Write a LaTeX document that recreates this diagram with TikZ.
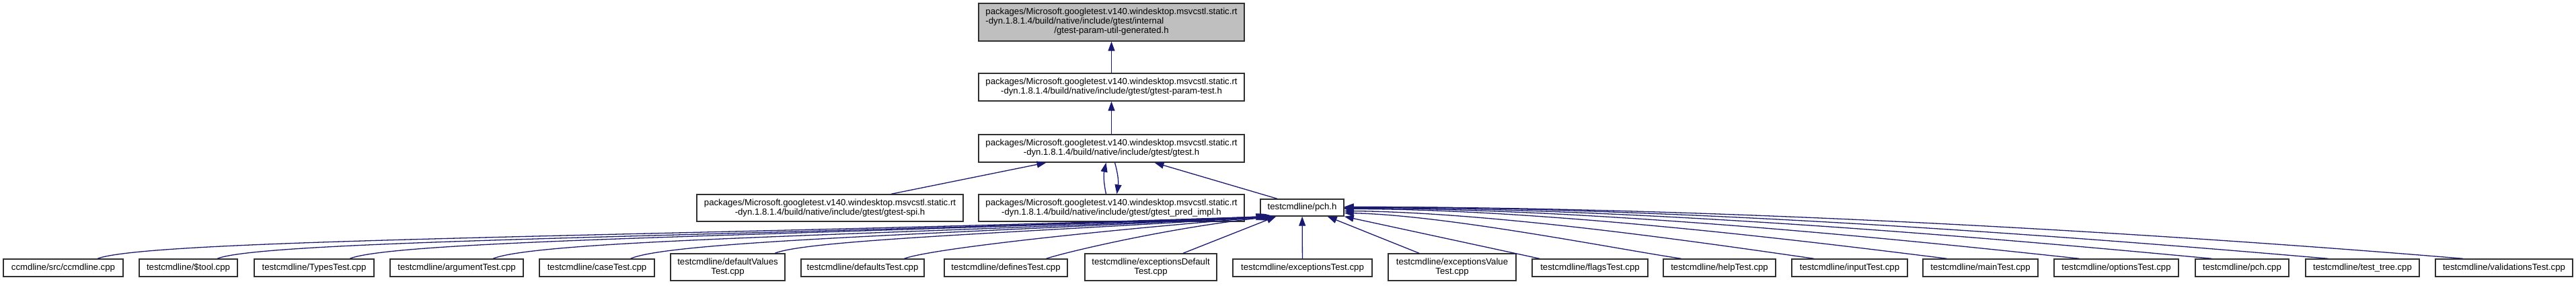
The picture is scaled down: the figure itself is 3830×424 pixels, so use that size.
\documentclass[tikz,border=0pt]{standalone}
\usepackage{fontspec}
\setmainfont{Liberation Sans}
\usepackage{xcolor}
\definecolor{edgeblue}{RGB}{25, 25, 112}
\definecolor{rootgray}{RGB}{191, 191, 191}
\definecolor{boxline}{RGB}{48, 48, 48}
\usepackage{tikz}
\usetikzlibrary{arrows.meta, calc}

\tikzset{
    filebox/.style={draw=boxline, line width=1.4pt, fill=white, inner sep=0pt, align=center,
        font=\fontsize{13.2}{14}\selectfont, minimum height=26pt},
    twoline/.style={filebox, minimum height=40pt},
    edge/.style={edgeblue, line width=1.3pt, -{Triangle[length=14pt, width=10pt]}},
}

\begin{document}
\begin{tikzpicture}[x=1pt, y=-1pt]
    \useasboundingbox (0,0) rectangle (3830,424);
    % header chain
    \node[filebox, fill=rootgray, minimum width=395pt, minimum height=56pt] (utilgen) at (1652.5,33)
        {\begin{tabular}{@{}l@{}}packages/Microsoft.googletest.v140.windesktop.msvcstl.static.rt\\
        -dyn.1.8.1.4/build/native/include/gtest/internal\\
        \multicolumn{1}{@{}c@{}}{/gtest-param-util-generated.h}\end{tabular}};
    \node[twoline, minimum width=395pt, minimum height=41pt] (paramtest) at (1652.5,129.5)
        {packages/Microsoft.googletest.v140.windesktop.msvcstl.static.rt\\-dyn.1.8.1.4/build/native/include/gtest/gtest-param-test.h};
    \node[twoline, minimum width=395pt, minimum height=41pt] (gtest) at (1652.5,220.5)
        {packages/Microsoft.googletest.v140.windesktop.msvcstl.static.rt\\-dyn.1.8.1.4/build/native/include/gtest/gtest.h};
    \node[twoline, minimum width=396pt] (spi) at (1234,309)
        {packages/Microsoft.googletest.v140.windesktop.msvcstl.static.rt\\-dyn.1.8.1.4/build/native/include/gtest/gtest-spi.h};
    \node[twoline, minimum width=395pt] (predimpl) at (1652.5,309)
        {packages/Microsoft.googletest.v140.windesktop.msvcstl.static.rt\\-dyn.1.8.1.4/build/native/include/gtest/gtest\_pred\_impl.h};
    \node[filebox, minimum width=124pt, minimum height=25pt] (pchh) at (1936,308.5) {testcmdline/pch.h};

    % sources including pch.h
    \node[filebox, minimum width=178pt] (ccmdline) at (94,398) {ccmdline/src/ccmdline.cpp};
    \node[filebox, minimum width=146pt] (tool) at (280,398) {testcmdline/\$tool.cpp};
    \node[filebox, minimum width=178pt] (types) at (467,398) {testcmdline/TypesTest.cpp};
    \node[filebox, minimum width=198pt] (argument) at (679,398) {testcmdline/argumentTest.cpp};
    \node[filebox, minimum width=171pt] (casetest) at (887.5,398) {testcmdline/caseTest.cpp};
    \node[twoline, minimum width=170pt] (defvalues) at (1082,397) {testcmdline/defaultValues\\Test.cpp};
    \node[filebox, minimum width=183pt] (defaults) at (1282.5,398) {testcmdline/defaultsTest.cpp};
    \node[filebox, minimum width=183pt] (defines) at (1495.5,398) {testcmdline/definesTest.cpp};
    \node[twoline, minimum width=196pt] (excdefault) at (1711,397) {testcmdline/exceptionsDefault\\Test.cpp};
    \node[filebox, minimum width=207pt] (exceptions) at (1936.5,398) {testcmdline/exceptionsTest.cpp};
    \node[twoline, minimum width=190pt] (excvalue) at (2159,397) {testcmdline/exceptionsValue\\Test.cpp};
    \node[filebox, minimum width=172pt] (flags) at (2364,398) {testcmdline/flagsTest.cpp};
    \node[filebox, minimum width=167pt] (help) at (2556.5,398) {testcmdline/helpTest.cpp};
    \node[filebox, minimum width=172pt] (input) at (2750,398) {testcmdline/inputTest.cpp};
    \node[filebox, minimum width=171pt] (maintest) at (2944.5,398) {testcmdline/mainTest.cpp};
    \node[filebox, minimum width=185pt] (options) at (3146.5,398) {testcmdline/optionsTest.cpp};
    \node[filebox, minimum width=139pt] (pchcpp) at (3333.5,398) {testcmdline/pch.cpp};
    \node[filebox, minimum width=169pt] (tree) at (3512.5,398) {testcmdline/test\_tree.cpp};
    \node[filebox, minimum width=204pt] (validations) at (3723,398) {testcmdline/validationsTest.cpp};

    % upper edges
    \draw[edge] (paramtest) -- (utilgen);
    \draw[edge] (gtest) -- (paramtest);
    \draw[edge] ($(spi.north)+(91,0)$) -- ($(gtest.south)+(-97,0)$);
    \draw[edge] ($(predimpl.north)+(-8,0)$) to[bend left=12] ($(gtest.south)+(-8,0)$);
    \draw[edge] ($(gtest.south)+(5,0)$) to[bend left=12] ($(predimpl.north)+(8,0)$);
    \draw[edge] ($(pchh.north)+(-37,0)$) -- ($(gtest.south)+(64,0)$);

    % left group into pch.h
    \draw[edge] ($(ccmdline.north)+(51,0)$) .. controls +(80,-30) and +(-870,30) .. ($(pchh.south west)+(8,0)$);
    \draw[edge] ($(tool.north)+(43,0)$) .. controls +(70,-28) and +(-780,30) .. ($(pchh.south west)+(10,0)$);
    \draw[edge] ($(types.north)+(53,0)$) .. controls +(70,-28) and +(-680,28) .. ($(pchh.south west)+(12,0)$);
    \draw[edge] ($(argument.north)+(54,0)$) .. controls +(70,-28) and +(-580,28) .. ($(pchh.south west)+(14,0)$);
    \draw[edge] ($(casetest.north)+(50,0)$) .. controls +(60,-26) and +(-480,26) .. ($(pchh.south west)+(16,0)$);
    \draw[edge] ($(defvalues.north)+(70,0)$) .. controls +(50,-20) and +(-370,24) .. ($(pchh.south west)+(18,0)$);
    \draw[edge] ($(defaults.north)+(62,0)$) .. controls +(40,-15) and +(-250,20) .. ($(pchh.south west)+(20,0)$);
    \draw[edge] ($(defines.north)+(60,0)$) .. controls +(30,-10) and +(-150,15) .. ($(pchh.south west)+(22,0)$);
    \draw[edge] ($(excdefault.north)+(48,0)$) -- ($(pchh.south west)+(24,0)$);
    \draw[edge] (exceptions) -- (pchh);
    \draw[edge] ($(excvalue.north)+(-49,0)$) -- ($(pchh.south east)+(-25,0)$);

    % right group into pch.h
    \draw[edge] ($(flags.north)+(-75,0)$) -- (pchh.south east);
    \draw[edge] ($(help.north)+(-57,0)$) .. controls +(-100,-15) and +(150,3) .. ($(pchh.east)+(0,8)$);
    \draw[edge] ($(input.north)+(-53,0)$) .. controls +(-140,-20) and +(230,2) .. ($(pchh.east)+(0,5)$);
    \draw[edge] ($(maintest.north)+(-50,0)$) .. controls +(-200,-25) and +(300,0) .. ($(pchh.east)+(0,2)$);
    \draw[edge] ($(options.north)+(-55,0)$) .. controls +(-260,-28) and +(380,0) .. ($(pchh.east)+(0,1)$);
    \draw[edge] ($(pchcpp.north)+(-45,0)$) .. controls +(-320,-30) and +(450,0) .. ($(pchh.east)+(0,0)$);
    \draw[edge] ($(tree.north)+(-51,0)$) .. controls +(-370,-32) and +(510,0) .. ($(pchh.east)+(0,-1)$);
    \draw[edge] ($(validations.north)+(-61,0)$) .. controls +(-420,-35) and +(580,0) .. ($(pchh.east)+(0,-1)$);
\end{tikzpicture}
\end{document}
